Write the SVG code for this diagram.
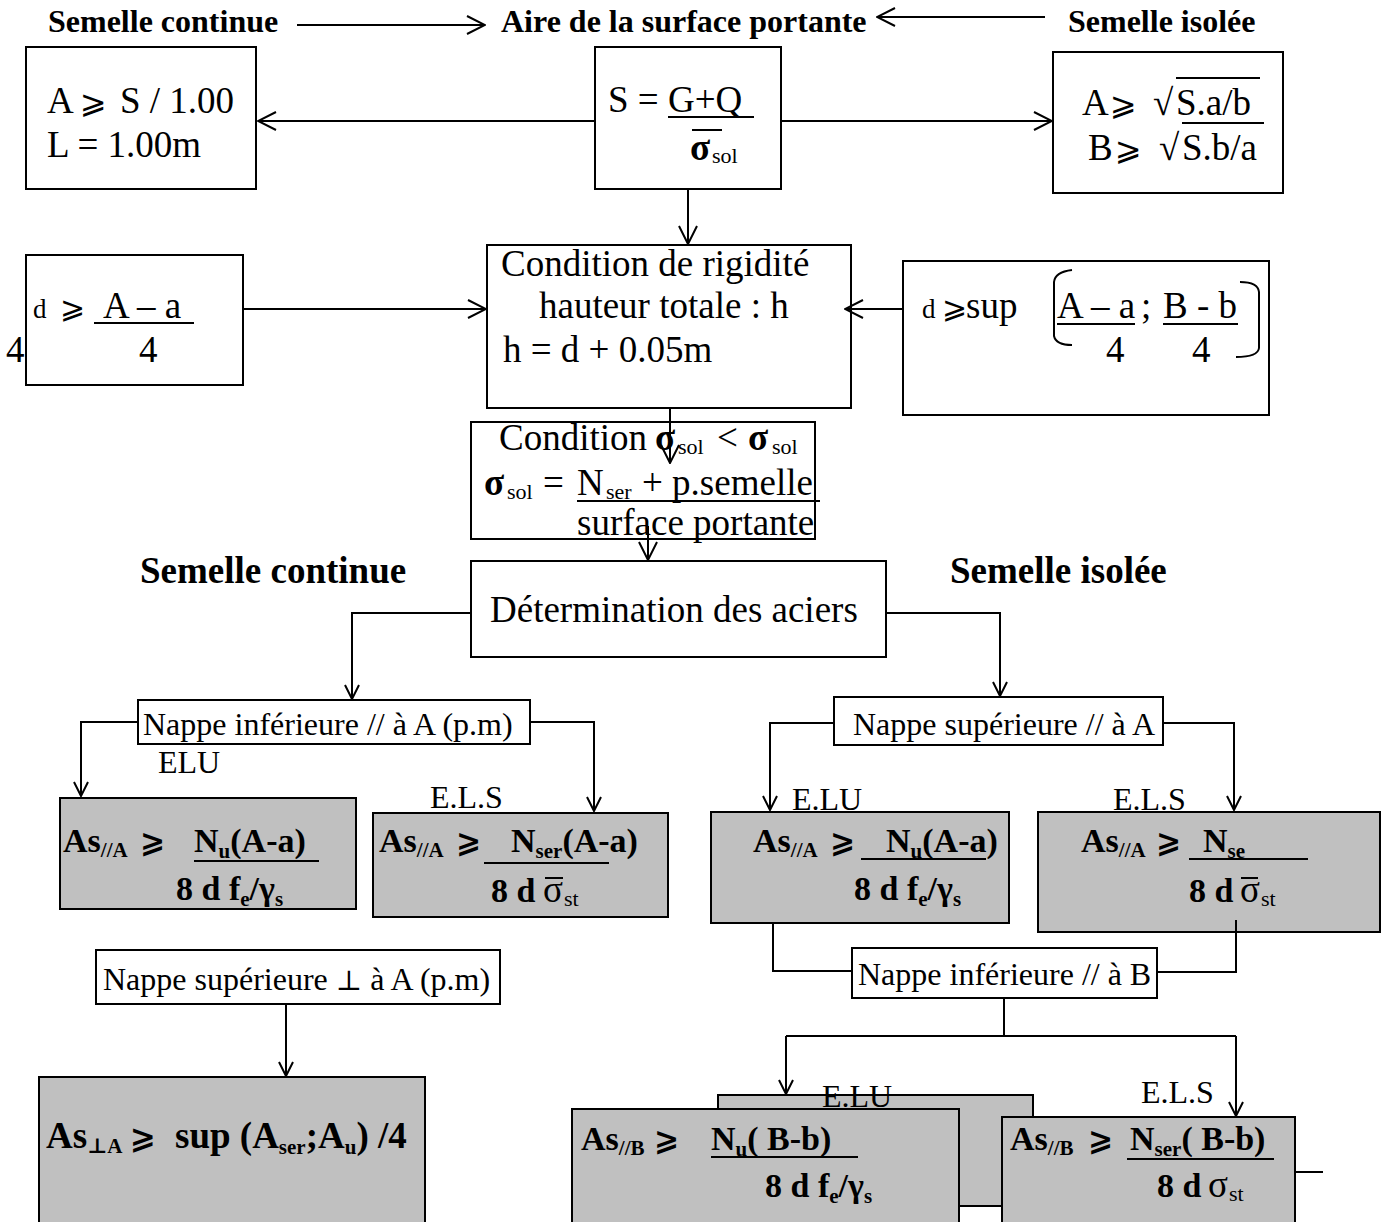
<svg xmlns="http://www.w3.org/2000/svg" width="1383" height="1222" viewBox="0 0 1383 1222">
<defs>
<style>
.box{fill:#fff;stroke:#000;stroke-width:2}
.gray{fill:#c0c0c0;stroke:#000;stroke-width:2}
.ln{fill:none;stroke:#000;stroke-width:2}
.ul{stroke:#000;stroke-width:2}
text{font-family:"Liberation Serif","Times New Roman","DejaVu Serif",serif;fill:#000}
.r37{font-size:37px}
.r32{font-size:32px}
.b32{font-size:32px;font-weight:bold}
.b37{font-size:37px;font-weight:bold}
.f{font-size:34px;font-weight:bold}
.fs{font-size:21px;font-weight:bold}
.sub{font-size:22px}
.sg{font-size:37px;font-weight:bold}
.sym{font-family:"DejaVu Serif","DejaVu Sans",serif}
</style>
<marker id="ah" viewBox="0 0 16 16" refX="15" refY="8" markerWidth="16" markerHeight="16" markerUnits="userSpaceOnUse" orient="auto"><path d="M1,1 L15,8 L1,15" fill="none" stroke="#000" stroke-width="2"/></marker>
<marker id="ahL" viewBox="0 0 20 20" refX="19" refY="10" markerWidth="20" markerHeight="20" markerUnits="userSpaceOnUse" orient="auto"><path d="M1,1 L19,10 L1,19" fill="none" stroke="#000" stroke-width="2"/></marker>
</defs>
<rect width="1383" height="1222" fill="#fff"/>

<g id="titles">
<text class="b32" x="48" y="32">Semelle continue</text>
<text class="b32" x="501" y="32">Aire de la surface portante</text>
<text class="b32" x="1068" y="32">Semelle isolée</text>
<text class="b37" x="140" y="583">Semelle continue</text>
<text class="b37" x="950" y="583">Semelle isolée</text>
</g>

<g id="n-continue-area">
<rect class="box" x="26" y="47" width="230" height="142"/>
<text class="r37" x="47" y="113">A</text>
<text class="r32 sym" x="80" y="113">⩾</text>
<text class="r37" x="120" y="113">S / 1.00</text>
<text class="r37" x="47" y="157">L = 1.00m</text>
</g>

<g id="n-surface">
<rect class="box" x="595" y="47" width="186" height="142"/>
<text class="r37" x="608" y="112">S = G+Q</text>
<line class="ul" x1="668" y1="117" x2="754" y2="117"/>
<line class="ul" x1="692" y1="130" x2="722" y2="130"/>
<text class="sg" x="690" y="160">σ</text>
<text class="sub" x="712" y="163">sol</text>
</g>

<g id="n-isolee-area">
<rect class="box" x="1053" y="52" width="230" height="141"/>
<text class="r37" x="1082" y="115">A</text>
<text class="r32 sym" x="1110" y="115">⩾</text>
<text class="r37" x="1153" y="115">√</text>
<text class="r37" x="1176" y="115">S.a/b</text>
<line class="ul" x1="1176" y1="78" x2="1260" y2="78"/>
<text class="r37" x="1088" y="160">B</text>
<text class="r32 sym" x="1115" y="160">⩾</text>
<text class="r37" x="1159" y="160">√</text>
<text class="r37" x="1182" y="160">S.b/a</text>
<line class="ul" x1="1182" y1="123" x2="1264" y2="123"/>
</g>

<g id="n-rigidite">
<rect class="box" x="487" y="245" width="364" height="163"/>
<text class="r37" x="501" y="276">Condition de rigidité</text>
<text class="r37" x="539" y="318">hauteur totale : h</text>
<text class="r37" x="503" y="362">h = d + 0.05m</text>
</g>

<g id="n-d-continue">
<rect class="box" x="26" y="255" width="217" height="130"/>
<text x="33" y="318" style="font-size:27px">d</text>
<text class="sym" x="60" y="318" style="font-size:30px">⩾</text>
<text class="r37" x="103" y="318">A – a</text>
<line class="ul" x1="94" y1="323" x2="194" y2="323"/>
<text class="r37" x="139" y="362">4</text>
<text class="r37" x="6" y="362">4</text>
</g>

<g id="n-d-isolee">
<rect class="box" x="903" y="261" width="366" height="154"/>
<text x="922" y="318" style="font-size:27px">d</text>
<text class="sym" x="942" y="318" style="font-size:30px">⩾</text>
<text class="r37" x="966" y="318">sup</text>
<path class="ln" d="M1072,270 Q1055,272 1054,282 L1054,336 Q1056,345 1072,345"/>
<text class="r37" x="1057" y="318">A – a</text>
<line class="ul" x1="1057" y1="324" x2="1135" y2="324"/>
<text class="r37" x="1141" y="318">;</text>
<text class="r37" x="1163" y="318">B - b</text>
<line class="ul" x1="1163" y1="324" x2="1238" y2="324"/>
<text class="r37" x="1106" y="362">4</text>
<text class="r37" x="1192" y="362">4</text>
<path class="ln" d="M1240,282 Q1258,282 1259,292 L1259,348 Q1258,357 1236,357"/>
</g>

<g id="n-sigma">
<rect class="box" x="471" y="422" width="344" height="117"/>
<text class="r37" x="499" y="450">Condition</text>
<text class="sg" x="655" y="450">σ</text>
<text class="sub" x="678" y="454">sol</text>
<text class="r37" x="717" y="450">&lt;</text>
<text class="sg" x="748" y="450">σ</text>
<text class="sub" x="772" y="454">sol</text>
<text class="sg" x="484" y="495">σ</text>
<text class="sub" x="507" y="499">sol</text>
<text class="r37" x="543" y="495">=</text>
<text class="r37" x="577" y="495">N</text>
<text class="sub" x="606" y="499">ser</text>
<text class="r37" x="642" y="495">+ p.semelle</text>
<line class="ul" x1="577" y1="501" x2="820" y2="501"/>
<text class="r37" x="577" y="535">surface portante</text>
</g>

<g id="n-aciers">
<rect class="box" x="471" y="561" width="415" height="96"/>
<text class="r37" x="490" y="622">Détermination des aciers</text>
</g>

<g id="n-nappe-inf-A">
<rect class="box" x="138" y="700" width="392" height="44"/>
<text class="r32" x="143" y="735">Nappe inférieure // à A (p.m)</text>
<text class="r32" x="158" y="773">ELU</text>
<text class="r32" x="430" y="808">E.L.S</text>
</g>

<g id="n-A1">
<rect class="gray" x="60" y="798" width="296" height="111"/>
<text class="f" x="63" y="852">As<tspan class="fs" dy="5">//A</tspan></text>
<text class="sym" x="140" y="852" style="font-size:30px;font-weight:bold">⩾</text>
<text class="f" x="194" y="852">N<tspan class="fs" dy="6">u</tspan><tspan dy="-6">(A-a)</tspan></text>
<line class="ul" x1="194" y1="861" x2="319" y2="861"/>
<text class="f" x="176" y="900">8 d f<tspan class="fs" dy="6">e</tspan><tspan dy="-6">/γ</tspan><tspan class="fs" dy="6">s</tspan></text>
</g>

<g id="n-A2">
<rect class="gray" x="373" y="813" width="295" height="104"/>
<text class="f" x="379" y="852">As<tspan class="fs" dy="5">//A</tspan></text>
<text class="sym" x="456" y="852" style="font-size:30px;font-weight:bold">⩾</text>
<text class="f" x="511" y="852">N<tspan class="fs" dy="6">ser</tspan><tspan dy="-6">(A-a)</tspan></text>
<line class="ul" x1="484" y1="863" x2="609" y2="863"/>
<text class="f" x="491" y="902">8 d</text>
<line class="ul" x1="545" y1="878" x2="563" y2="878"/>
<text class="r37" x="543" y="902">σ</text>
<text class="sub" x="564" y="906">st</text>
</g>

<g id="n-nappe-sup-A">
<rect class="box" x="834" y="697" width="329" height="48"/>
<text class="r32" x="853" y="735">Nappe supérieure // à A</text>
<text class="r32" x="792" y="810">E.LU</text>
<text class="r32" x="1113" y="810">E.L.S</text>
</g>

<g id="n-B1">
<rect class="gray" x="711" y="812" width="298" height="111"/>
<text class="f" x="753" y="852">As<tspan class="fs" dy="5">//A</tspan></text>
<text class="sym" x="830" y="852" style="font-size:30px;font-weight:bold">⩾</text>
<text class="f" x="886" y="852">N<tspan class="fs" dy="6">u</tspan><tspan dy="-6">(A-a)</tspan></text>
<line class="ul" x1="861" y1="859" x2="986" y2="859"/>
<text class="f" x="854" y="900">8 d f<tspan class="fs" dy="6">e</tspan><tspan dy="-6">/γ</tspan><tspan class="fs" dy="6">s</tspan></text>
</g>

<g id="n-B2">
<rect class="gray" x="1038" y="812" width="342" height="120"/>
<text class="f" x="1081" y="852">As<tspan class="fs" dy="5">//A</tspan></text>
<text class="sym" x="1156" y="852" style="font-size:30px;font-weight:bold">⩾</text>
<text class="f" x="1203" y="852">N<tspan class="fs" dy="6">se</tspan></text>
<line class="ul" x1="1189" y1="859" x2="1308" y2="859"/>
<text class="f" x="1189" y="902">8 d</text>
<line class="ul" x1="1241" y1="878" x2="1258" y2="878"/>
<text class="r37" x="1240" y="902">σ</text>
<text class="sub" x="1261" y="906">st</text>
</g>

<g id="n-nappe-inf-B">
<rect class="box" x="852" y="948" width="305" height="50"/>
<text class="r32" x="858" y="985">Nappe inférieure // à B</text>
</g>

<g id="n-nappe-sup-perp">
<rect class="box" x="96" y="950" width="404" height="54"/>
<text class="r32" x="103" y="990">Nappe supérieure <tspan class="sym" style="font-size:28px">⊥</tspan> à A (p.m)</text>
</g>

<g id="n-D">
<rect class="gray" x="39" y="1077" width="386" height="160"/>
<text class="f" x="46" y="1148" style="font-size:37px">As<tspan class="fs" dy="5"><tspan class="sym">⊥</tspan>A</tspan></text>
<text class="sym" x="130" y="1148" style="font-size:31px;font-weight:bold">⩾</text>
<text class="f" x="175" y="1148" style="font-size:37px">sup (A<tspan class="fs" dy="6">ser</tspan><tspan dy="-6">;A</tspan><tspan class="fs" dy="6">u</tspan><tspan dy="-6">) /4</tspan></text>
</g>

<g id="n-back">
<rect class="gray" x="718" y="1095" width="315" height="111"/>
<text class="r32" x="822" y="1107">E.LU</text>
<text class="r32" x="1141" y="1103">E.L.S</text>
</g>

<g id="n-C1">
<rect class="gray" x="572" y="1109" width="387" height="125"/>
<text class="f" x="581" y="1150">As<tspan class="fs" dy="5">//B</tspan></text>
<text class="sym" x="654" y="1150" style="font-size:30px;font-weight:bold">⩾</text>
<text class="f" x="711" y="1150">N<tspan class="fs" dy="6">u</tspan><tspan dy="-6">( B-b)</tspan></text>
<line class="ul" x1="711" y1="1157" x2="858" y2="1157"/>
<text class="f" x="765" y="1197">8 d f<tspan class="fs" dy="6">e</tspan><tspan dy="-6">/γ</tspan><tspan class="fs" dy="6">s</tspan></text>
</g>

<g id="n-C2">
<rect class="gray" x="1002" y="1117" width="293" height="117"/>
<text class="f" x="1010" y="1150">As<tspan class="fs" dy="5">//B</tspan></text>
<text class="sym" x="1088" y="1150" style="font-size:30px;font-weight:bold">⩾</text>
<text class="f" x="1130" y="1150">N<tspan class="fs" dy="6">ser</tspan><tspan dy="-6">( B-b)</tspan></text>
<line class="ul" x1="1127" y1="1159" x2="1274" y2="1159"/>
<text class="f" x="1157" y="1197">8 d</text>
<text class="r37" x="1208" y="1197">σ</text>
<text class="sub" x="1229" y="1201">st</text>
</g>

<g id="connectors">
<line class="ln" x1="297" y1="25" x2="485" y2="25" marker-end="url(#ahL)"/>
<line class="ln" x1="1045" y1="17" x2="877" y2="17" marker-end="url(#ahL)"/>
<line class="ln" x1="595" y1="121" x2="258" y2="121" marker-end="url(#ahL)"/>
<line class="ln" x1="781" y1="121" x2="1052" y2="121" marker-end="url(#ahL)"/>
<line class="ln" x1="688" y1="189" x2="688" y2="244" marker-end="url(#ahL)"/>
<line class="ln" x1="243" y1="309" x2="486" y2="309" marker-end="url(#ahL)"/>
<line class="ln" x1="903" y1="309" x2="845" y2="309" marker-end="url(#ahL)"/>
<line class="ln" x1="670" y1="408" x2="670" y2="463" marker-end="url(#ahL)"/>
<line class="ln" x1="648" y1="526" x2="648" y2="560" marker-end="url(#ahL)"/>
<polyline class="ln" points="471,613 352,613 352,699" marker-end="url(#ah)"/>
<polyline class="ln" points="886,613 1000,613 1000,696" marker-end="url(#ah)"/>
<polyline class="ln" points="138,722 81,722 81,796" marker-end="url(#ah)"/>
<polyline class="ln" points="530,722 594,722 594,811" marker-end="url(#ah)"/>
<polyline class="ln" points="834,723 770,723 770,810" marker-end="url(#ah)"/>
<polyline class="ln" points="1163,723 1234,723 1234,810" marker-end="url(#ah)"/>
<polyline class="ln" points="773,923 773,971 852,971"/>
<polyline class="ln" points="1157,972 1236,972 1236,920"/>
<line class="ln" x1="1004" y1="998" x2="1004" y2="1036"/>
<line class="ln" x1="786" y1="1036" x2="1236" y2="1036"/>
<line class="ln" x1="786" y1="1036" x2="786" y2="1094" marker-end="url(#ah)"/>
<line class="ln" x1="1236" y1="1036" x2="1236" y2="1116" marker-end="url(#ah)"/>
<line class="ln" x1="286" y1="1004" x2="286" y2="1076" marker-end="url(#ah)"/>
<line class="ln" x1="1295" y1="1172" x2="1323" y2="1172"/>
</g>
</svg>
